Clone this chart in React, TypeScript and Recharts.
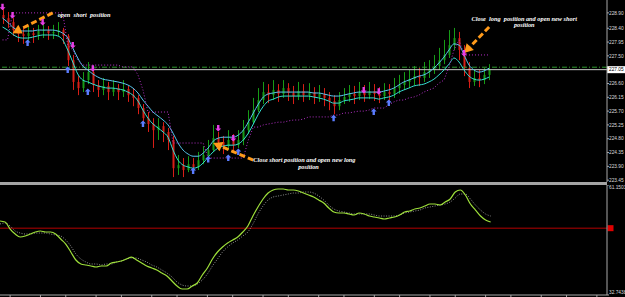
import {
  Bar,
  ComposedChart,
  Line,
  ReferenceDot,
  ReferenceLine,
  Scatter,
  XAxis,
  YAxis,
} from "recharts";

// price bars (one entry per candle)
const firstOpen = 228.83;
const closes = [
  228.73, 228.6, 228.34, 228.21, 228.15, 228.24, 228.18, 228.31, 228.34, 228.24,
  228.28, 228.34, 228.15, 227.36, 226.65, 226.45, 226.71, 226.97, 226.55, 226.39,
  226.52, 226.32, 226.45, 226.32, 226.42, 226.22, 226.13, 225.8, 225.47, 225.28,
  225.08, 225.21, 225.02, 224.76, 223.84, 223.94, 223.78, 223.97, 223.88, 224.1,
  224.27, 224.43, 224.82, 224.69, 224.56, 224.76, 224.59, 224.76, 225.08, 225.34,
  225.73, 226.06, 226.32, 226.22, 226.39, 226.26, 226.45, 226.29, 226.19, 226.35,
  226.22, 226.32, 226.16, 226.26, 226.13, 226.03, 225.86, 226.06, 226.16, 226.26,
  226.19, 226.32, 226.22, 226.35, 226.26, 226.19, 226.32, 226.26, 226.45, 226.55,
  226.65, 226.74, 226.84, 226.78, 226.97, 227.04, 227.17, 227.36, 227.53, 227.85,
  228.08, 227.69, 227.1, 226.65, 226.78, 226.71, 226.88, 227.05,
];
const highs = [
  229.06, 228.93, 228.73, 228.47, 228.41, 228.44, 228.41, 228.51, 228.54, 228.47,
  228.51, 228.6, 228.41, 228.21, 227.53, 226.84, 226.97, 227.3, 227.04, 226.71,
  226.78, 226.65, 226.71, 226.58, 226.71, 226.52, 226.45, 226.22, 225.93, 225.67,
  225.47, 225.47, 225.34, 225.15, 224.89, 224.27, 224.17, 224.23, 224.17, 224.37,
  224.56, 224.76, 225.25, 225.02, 224.89, 225.08, 224.95, 225.08, 225.41, 225.73,
  226.13, 226.45, 226.65, 226.58, 226.71, 226.58, 226.71, 226.61, 226.52, 226.65,
  226.58, 226.61, 226.48, 226.55, 226.45, 226.32, 226.22, 226.32, 226.45, 226.55,
  226.52, 226.65, 226.55, 226.65, 226.58, 226.48, 226.61, 226.58, 226.78, 226.88,
  226.97, 227.04, 227.17, 227.1, 227.3, 227.36, 227.53, 227.76, 228.02, 228.34,
  228.41, 228.28, 227.85, 227.3, 227.04, 227.04, 227.1, 227.23,
];
const lows = [
  228.54, 228.41, 228.15, 227.95, 227.89, 227.95, 227.92, 228.02, 228.08, 228.02,
  228.05, 228.15, 227.89, 227.17, 226.39, 226.22, 226.32, 226.58, 226.32, 226.16,
  226.22, 226.06, 226.19, 226.06, 226.16, 226.0, 225.86, 225.6, 225.21, 225.02,
  224.5, 224.76, 224.69, 224.43, 223.55, 223.62, 223.55, 223.71, 223.65, 223.78,
  223.97, 224.1, 224.37, 224.43, 224.3, 224.43, 224.37, 224.5, 224.59, 224.95,
  225.28, 225.67, 225.93, 225.96, 226.06, 226.0, 226.13, 226.03, 225.93, 226.06,
  226.0, 226.06, 225.93, 226.0, 225.86, 225.73, 225.6, 225.73, 225.93, 226.0,
  225.93, 226.06, 226.0, 226.09, 226.03, 225.96, 226.06, 226.03, 226.13, 226.26,
  226.39, 226.45, 226.55, 226.52, 226.65, 226.78, 226.91, 227.04, 227.23, 227.43,
  227.69, 227.36, 226.84, 226.45, 226.52, 226.48, 226.58, 226.71,
];
const upperBand = [
  228.73, 228.6, 228.44, 228.34, 228.31, 228.31, 228.31, 228.34, 228.34, 228.34,
  228.34, 228.31, 228.24, 228.08, 227.76, 227.43, 227.17, 227.04, 226.91, 226.81,
  226.74, 226.71, 226.68, 226.65, 226.61, 226.55, 226.45, 226.29, 226.06, 225.86,
  225.67, 225.54, 225.41, 225.25, 224.98, 224.66, 224.43, 224.3, 224.23, 224.23,
  224.33, 224.5, 224.72, 224.82, 224.85, 224.85, 224.85, 224.92, 225.08, 225.34,
  225.64, 225.93, 226.16, 226.26, 226.29, 226.32, 226.32, 226.32, 226.32, 226.32,
  226.32, 226.32, 226.29, 226.29, 226.26, 226.22, 226.19, 226.19, 226.22, 226.26,
  226.29, 226.32, 226.32, 226.32, 226.32, 226.32, 226.35, 226.39, 226.45, 226.55,
  226.65, 226.71, 226.78, 226.84, 226.88, 226.97, 227.1, 227.27, 227.46, 227.69,
  227.89, 227.85, 227.53, 227.2, 227.04, 226.97, 227.01, 227.1,
];
const lowerBand = [
  228.44, 228.34, 228.21, 228.11, 228.08, 228.08, 228.11, 228.15, 228.18, 228.18,
  228.18, 228.15, 228.02, 227.69, 227.3, 226.91, 226.71, 226.65, 226.58, 226.52,
  226.48, 226.45, 226.45, 226.42, 226.39, 226.32, 226.22, 226.03, 225.73, 225.47,
  225.28, 225.15, 225.02, 224.85, 224.43, 224.1, 223.94, 223.88, 223.84, 223.88,
  224.01, 224.2, 224.37, 224.5, 224.56, 224.59, 224.59, 224.63, 224.76, 224.98,
  225.28, 225.6, 225.86, 226.03, 226.09, 226.16, 226.19, 226.19, 226.19, 226.19,
  226.19, 226.19, 226.16, 226.13, 226.09, 226.03, 225.96, 225.96, 226.03, 226.06,
  226.09, 226.13, 226.13, 226.13, 226.13, 226.09, 226.13, 226.16, 226.22, 226.32,
  226.39, 226.45, 226.52, 226.55, 226.58, 226.65, 226.74, 226.88, 227.04, 227.23,
  227.43, 227.3, 227.04, 226.84, 226.74, 226.71, 226.74, 226.81,
];
const stopLine = [
  228.02, 228.02, 228.9, 228.9, 228.9, 228.9, 228.9, 228.9, 228.9, 228.9,
  228.9, 228.9, 228.9, 227.85, 227.69, 227.36, 227.2, 227.2, 227.2, 227.2,
  227.2, 227.2, 227.2, 227.2, 227.14, 227.14, 227.14, 226.88, 226.39, 225.67,
  225.67, 225.67, 225.67, 225.67, 224.66, 224.66, 224.66, 224.66, 224.66, 224.66,
  224.66, 224.17, 224.17, 224.17, 224.17, 224.17, 224.17, 224.17, 224.17, 224.76,
  225.18, 225.18, 225.25, 225.28, 225.31, 225.34, 225.34, 225.38, 225.41, 225.41,
  225.44, 225.51, 225.51, 225.51, 225.51, 225.51, 225.57, 225.57, 225.64, 225.64,
  225.67, 225.7, 225.7, 225.73, 225.8, 225.8, 225.8, 225.9, 226.0, 226.06,
  226.06, 226.13, 226.16, 226.22, 226.32, 226.39, 226.45, 226.61, 226.71, 227.14,
  227.69, 228.02, 227.53, 227.53, 227.53, 227.53, 227.53, 227.53,
];
// [bar, price]
const buySignals = [
  [5, 227.92], [13, 227.04], [17, 226.32], [28, 225.28], [38, 223.75], [41, 224.12],
  [45, 224.17], [47, 224.37], [66, 225.47], [74, 225.67], [77, 225.96],
];
const sellSignals = [
  [0, 229.1], [2, 228.83], [8, 228.6], [14, 227.85], [18, 227.1], [43, 225.15],
  [46, 224.82], [72, 226.39], [75, 226.35], [92, 227.59],
];

// lower panel oscillator
const oscillator = [
  51.85, 51.59, 49.78, 48.49, 47.72, 47.98, 48.49, 49.01, 49.27, 49.01,
  49.01, 48.49, 47.2, 45.91, 43.85, 41.78, 40.75, 40.49, 40.23, 39.97,
  40.23, 40.23, 41.01, 41.26, 41.52, 42.04, 42.55, 41.78, 41.01, 40.23,
  39.71, 39.2, 38.42, 37.65, 36.36, 35.07, 34.29, 34.29, 35.07, 35.84,
  37.91, 39.71, 42.04, 43.85, 45.14, 46.17, 46.94, 47.72, 49.01, 50.56,
  53.14, 55.47, 57.53, 59.08, 59.86, 60.12, 60.12, 59.86, 59.86, 59.6,
  59.08, 58.57, 58.05, 57.28, 56.5, 55.21, 54.18, 53.92, 53.92, 53.66,
  53.4, 53.92, 53.66, 53.14, 52.88, 52.63, 52.37, 52.63, 52.88, 53.4,
  54.18, 54.43, 54.95, 55.21, 55.73, 56.24, 56.24, 55.98, 56.76, 57.53,
  59.34, 59.86, 58.57, 56.24, 54.69, 53.14, 52.11, 51.59,
];
const oscSignal = [
  51.08, 51.34, 50.56, 49.27, 48.75, 48.49, 48.49, 48.75, 48.75, 48.75,
  48.49, 48.24, 47.98, 46.94, 45.39, 43.33, 42.04, 41.26, 40.75, 40.75,
  40.49, 40.75, 40.75, 41.26, 41.52, 42.04, 42.3, 42.3, 41.78, 41.26,
  40.49, 39.97, 39.2, 38.42, 37.39, 36.1, 35.33, 35.07, 35.07, 35.58,
  36.62, 38.17, 40.23, 42.04, 43.85, 45.14, 46.17, 46.94, 47.98, 49.01,
  51.08, 53.66, 55.73, 57.28, 58.05, 58.31, 58.57, 58.83, 59.08, 59.08,
  59.34, 59.34, 59.08, 58.31, 57.28, 55.98, 54.95, 54.43, 54.18, 53.92,
  53.66, 53.66, 53.66, 53.66, 53.4, 53.14, 53.14, 53.14, 53.14, 53.4,
  53.92, 54.18, 54.43, 54.69, 55.21, 55.47, 55.73, 55.98, 56.24, 56.76,
  57.79, 58.83, 58.83, 57.53, 55.98, 54.69, 53.66, 53.14,
];

const priceTicks = [228.9, 228.4, 227.95, 227.5, 226.6, 226.15, 225.7, 225.25, 224.8, 224.35, 223.9, 223.45];
const oscTicks = [61.1503, 32.7438];
const timeTicks = [2, 8, 13, 19, 24, 30, 35, 41, 46, 52, 57, 63, 68, 74, 79, 85, 90, 96, 101, 107, 112, 118];
const slotCount = 121; // chart shift leaves empty room on the right
const askPrice = 227.13;
const bidPrice = closes[closes.length - 1];
const midLevel = 50;

const buyAt = new Map(buySignals.map(([i, p]) => [i, p]));
const sellAt = new Map(sellSignals.map(([i, p]) => [i, p]));

const rows = Array.from({ length: slotCount }, (_, i) => {
  if (i >= closes.length) return { i };
  return {
    i,
    open: i === 0 ? firstOpen : closes[i - 1],
    close: closes[i],
    high: highs[i],
    low: lows[i],
    range: [lows[i], highs[i]],
    upper: upperBand[i],
    lower: lowerBand[i],
    stop: stopLine[i],
    buy: buyAt.get(i) ?? null,
    sell: sellAt.get(i) ?? null,
    osc: oscillator[i],
    sig: oscSignal[i],
  };
});

const AXIS = "#a8a8a8";
const ORANGE = "#ff9a1a";
const smallFont = "Liberation Sans, Arial, sans-serif";
const noteFont = "Liberation Serif, serif";

function Candle(props: any) {
  const { x, y, width, height, payload } = props;
  if (!payload || payload.close == null || !height) return null;
  const { open, close, high, low } = payload;
  const top = Math.min(y, y + height);
  const span = Math.abs(height);
  const toY = (v: number) => top + ((high - v) / (high - low)) * span;
  const cx = Math.round(x + width / 2) + 0.5;
  const color = close >= open ? "#169c16" : "#d81e16";
  const bTop = toY(Math.max(open, close));
  const bBot = toY(Math.min(open, close));
  return (
    <g>
      <line x1={cx} x2={cx} y1={top} y2={top + span} stroke={color} strokeWidth={1} />
      <rect x={cx - 1} y={bTop} width={2} height={Math.max(1, bBot - bTop)} fill={color} />
    </g>
  );
}

function UpArrow(p: any) {
  if (p.payload?.buy == null || !isFinite(p.cy)) return null;
  const { cx, cy } = p;
  return (
    <path
      d={`M${cx},${cy - 3.5} L${cx + 3},${cy - 0.5} L${cx + 1.2},${cy - 0.5} L${cx + 1.2},${cy + 3} L${cx - 1.2},${cy + 3} L${cx - 1.2},${cy - 0.5} L${cx - 3},${cy - 0.5} Z`}
      fill="#5b7cff"
    />
  );
}

function DownArrow(p: any) {
  if (p.payload?.sell == null || !isFinite(p.cy)) return null;
  const { cx, cy } = p;
  return (
    <path
      d={`M${cx},${cy + 3.5} L${cx + 3},${cy + 0.5} L${cx + 1.2},${cy + 0.5} L${cx + 1.2},${cy - 3} L${cx - 1.2},${cy - 3} L${cx - 1.2},${cy + 0.5} L${cx - 3},${cy + 0.5} Z`}
      fill="#e63ee6"
    />
  );
}

function DashArrow(props: any) {
  const { x1, y1, x2, y2 } = props;
  const ang = Math.atan2(y2 - y1, x2 - x1);
  const bx = x2 - Math.cos(ang) * 9;
  const by = y2 - Math.sin(ang) * 9;
  const px = -Math.sin(ang) * 5;
  const py = Math.cos(ang) * 5;
  return (
    <g>
      <line x1={x1} y1={y1} x2={bx} y2={by} stroke={ORANGE} strokeWidth={3} strokeDasharray="6 3" />
      <polygon points={`${x2},${y2} ${bx + px},${by + py} ${bx - px},${by - py}`} fill={ORANGE} />
    </g>
  );
}

const note = (text: string, anchor: "start" | "middle") => (p: any) => (
  <text
    x={p.cx}
    y={p.cy}
    textAnchor={anchor}
    fill="#ffffff"
    fontSize={6.3}
    fontStyle="italic"
    fontWeight="bold"
    fontFamily={noteFont}
    style={{ whiteSpace: "pre" }}
  >
    {text}
  </text>
);

function PriceTick(props: any) {
  const { x, y, payload } = props;
  return (
    <text x={x} y={y} dy={1.7} fill="#dcdcdc" fontSize={4.8} fontFamily={smallFont}>
      {Number(payload.value).toFixed(2)}
    </text>
  );
}

function OscTick(props: any) {
  const { x, y, payload } = props;
  const v = Number(payload.value);
  return (
    <text x={x} y={y} dy={v > 50 ? 4 : -1} fill="#dcdcdc" fontSize={4.8} fontFamily={smallFont}>
      {v.toFixed(4)}
    </text>
  );
}

export default function App() {
  return (
    <div style={{ width: 625, height: 297, background: "#000", overflow: "hidden" }}>
      <style>{"body{margin:0;background:#000}"}</style>
      <ComposedChart width={625} height={182} data={rows} margin={{ top: 0, right: 0, bottom: 0, left: 0 }}>
        <XAxis dataKey="i" type="category" hide />
        <YAxis
          orientation="right"
          width={18}
          domain={[223.39, 229.32]}
          allowDataOverflow
          ticks={priceTicks}
          interval={0}
          tickSize={2}
          tickMargin={0}
          tick={<PriceTick />}
          axisLine={{ stroke: AXIS }}
          tickLine={{ stroke: AXIS }}
        />
        <ReferenceLine y={askPrice} stroke="#2e9a2e" strokeDasharray="5 2 1 2" />
        <ReferenceLine
          y={bidPrice}
          stroke="#c8c8c8"
          label={(p: any) => {
            const vb = p.viewBox;
            const x = vb.x + vb.width;
            return (
              <g>
                <rect x={x} y={vb.y - 3.5} width={18} height={7} fill="#ffffff" />
                <text x={x + 2} y={vb.y + 1.8} fontSize={4.8} fill="#000" fontFamily={smallFont}>
                  {bidPrice.toFixed(2)}
                </text>
              </g>
            );
          }}
        />
        <Bar dataKey="range" isAnimationActive={false} activeBar={false} shape={(p: any) => <Candle {...p} />} />
        <Line type="monotone" dataKey="upper" stroke="#58c8f0" strokeWidth={1} dot={false} activeDot={false} isAnimationActive={false} />
        <Line type="monotone" dataKey="lower" stroke="#35e0d2" strokeWidth={1} dot={false} activeDot={false} isAnimationActive={false} />
        <Line type="linear" dataKey="stop" stroke="#b52fc8" strokeWidth={1} strokeDasharray="1 2" dot={false} activeDot={false} isAnimationActive={false} />
        <Scatter dataKey="buy" shape={UpArrow} activeShape={UpArrow} isAnimationActive={false} />
        <Scatter dataKey="sell" shape={DownArrow} activeShape={DownArrow} isAnimationActive={false} />
        <ReferenceLine segment={[{ x: 10, y: 228.9 }, { x: 2, y: 228.24 }]} shape={DashArrow} />
        <ReferenceLine segment={[{ x: 97, y: 228.44 }, { x: 92, y: 227.59 }]} shape={DashArrow} />
        <ReferenceLine segment={[{ x: 50, y: 224.1 }, { x: 42, y: 224.66 }]} shape={DashArrow} />
        <ReferenceDot x={11} y={228.75} r={1} shape={note("open  short  position", "start")} />
        <ReferenceDot x={104} y={228.64} r={1} shape={note("Close  long  position and open new short", "middle")} />
        <ReferenceDot x={104} y={228.44} r={1} shape={note("position", "middle")} />
        <ReferenceDot x={50} y={224.04} r={1} shape={note("Close short position and open new long", "start")} />
        <ReferenceDot x={61} y={223.81} r={1} shape={note("position", "middle")} />
      </ComposedChart>
      <div style={{ width: 607, height: 3, background: "#a4a4a4" }} />
      <ComposedChart width={625} height={112} data={rows} margin={{ top: 0, right: 0, bottom: 0, left: 0 }}>
        <XAxis
          dataKey="i"
          type="category"
          ticks={timeTicks}
          interval={0}
          height={2}
          tickSize={2}
          tickFormatter={() => ""}
          axisLine={{ stroke: AXIS }}
          tickLine={{ stroke: AXIS }}
        />
        <YAxis
          orientation="right"
          width={18}
          domain={[32.7438, 61.1503]}
          allowDataOverflow
          ticks={oscTicks}
          interval={0}
          tickSize={2}
          tickMargin={0}
          tick={<OscTick />}
          axisLine={{ stroke: AXIS }}
          tickLine={{ stroke: AXIS }}
        />
        <ReferenceLine
          y={midLevel}
          stroke="#b40000"
          label={(p: any) => {
            const vb = p.viewBox;
            return <rect x={vb.x + vb.width + 0.5} y={vb.y - 3} width={6} height={6} fill="#e00000" />;
          }}
        />
        <Line type="monotone" dataKey="sig" stroke="#b4b4b4" strokeWidth={0.8} strokeDasharray="1 1.5" dot={false} activeDot={false} isAnimationActive={false} />
        <Line type="monotone" dataKey="osc" stroke="#9ee03a" strokeWidth={1.2} dot={false} activeDot={false} isAnimationActive={false} />
      </ComposedChart>
    </div>
  );
}
